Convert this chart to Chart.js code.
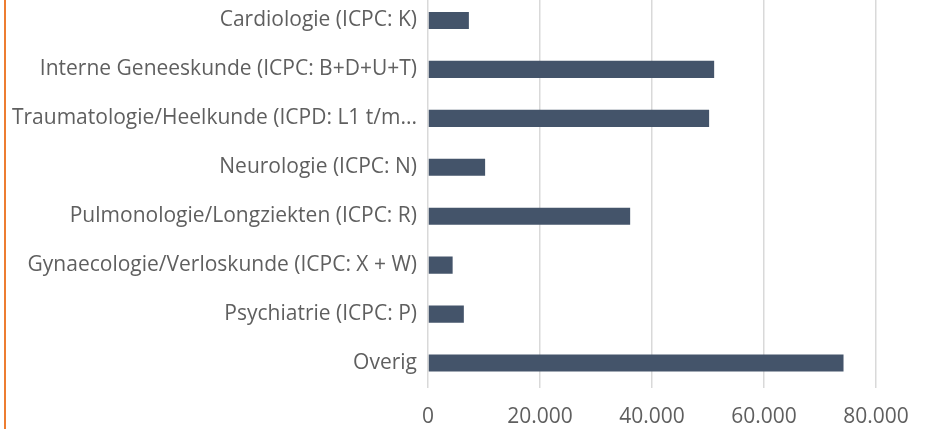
<!DOCTYPE html>
<html>
<head>
<meta charset="utf-8">
<script src="https://cdn.jsdelivr.net/npm/chart.js@4/dist/chart.umd.min.js"></script>
<style>
  html, body { margin: 0; padding: 0; background: #fff; overflow: hidden; }
  #wrap { position: absolute; left: 0; top: -4px; width: 933px; height: 433px; }
  #edge { position: absolute; left: 4px; top: 0; width: 2px; height: 429px; background: #ed7d31; }
</style>
</head>
<body>
<div id="wrap"><canvas id="myChart"></canvas></div>
<div id="edge"></div>
<script>
// categories and values
const labels = [
  "Cardiologie (ICPC: K)",
  "Interne Geneeskunde (ICPC: B+D+U+T)",
  "Traumatologie/Heelkunde (ICPD: L1 t/m...",
  "Neurologie (ICPC: N)",
  "Pulmonologie/Longziekten (ICPC: R)",
  "Gynaecologie/Verloskunde (ICPC: X + W)",
  "Psychiatrie (ICPC: P)",
  "Overig",
];
const values = [7300, 51100, 50200, 10200, 36100, 4400, 6400, 74200];
const xTicks = [0, 20000, 40000, 60000, 80000];

const textColor = "#5f5f5f";
const fontFamily = "'Open Sans', 'Liberation Sans', sans-serif";

// Dutch thousands separator
function fmt(v) {
  return String(v).replace(/\B(?=(\d{3})+(?!\d))/g, ".");
}

const ctx = document.getElementById("myChart");
new Chart(ctx, {
  type: "bar",
  data: {
    labels: labels,
    datasets: [
      {
        data: values,
        backgroundColor: "#44546a",
        borderWidth: 0,
        categoryPercentage: 1,
        barPercentage: 0.35,
      },
    ],
  },
  options: {
    indexAxis: "y",
    responsive: true,
    maintainAspectRatio: false,
    animation: false,
    layout: { padding: { left: 0, right: 57, top: 0, bottom: 0 } },
    plugins: {
      legend: { display: false },
      tooltip: { enabled: false },
    },
    scales: {
      x: {
        min: 0,
        max: 80000,
        afterBuildTicks: (scale) => {
          scale.ticks = xTicks.map((v) => ({ value: v }));
        },
        afterFit: (scale) => {
          scale.height = 41.5;
        },
        border: { display: false },
        grid: { color: "#d9d9d9", lineWidth: 1.5, drawTicks: false },
        ticks: {
          padding: 17,
          color: textColor,
          font: { family: fontFamily, size: 21 },
          callback: (v) => fmt(v),
        },
      },
      y: {
        afterFit: (scale) => {
          scale.width = 428;
          // no extra room above/below the category band
          scale.paddingTop = 0;
          scale.paddingBottom = 0;
        },
        border: { display: false },
        grid: { display: false, drawTicks: false },
        ticks: {
          padding: 11,
          color: textColor,
          font: { family: fontFamily, size: 21 },
        },
      },
    },
  },
});
</script>
</body>
</html>
